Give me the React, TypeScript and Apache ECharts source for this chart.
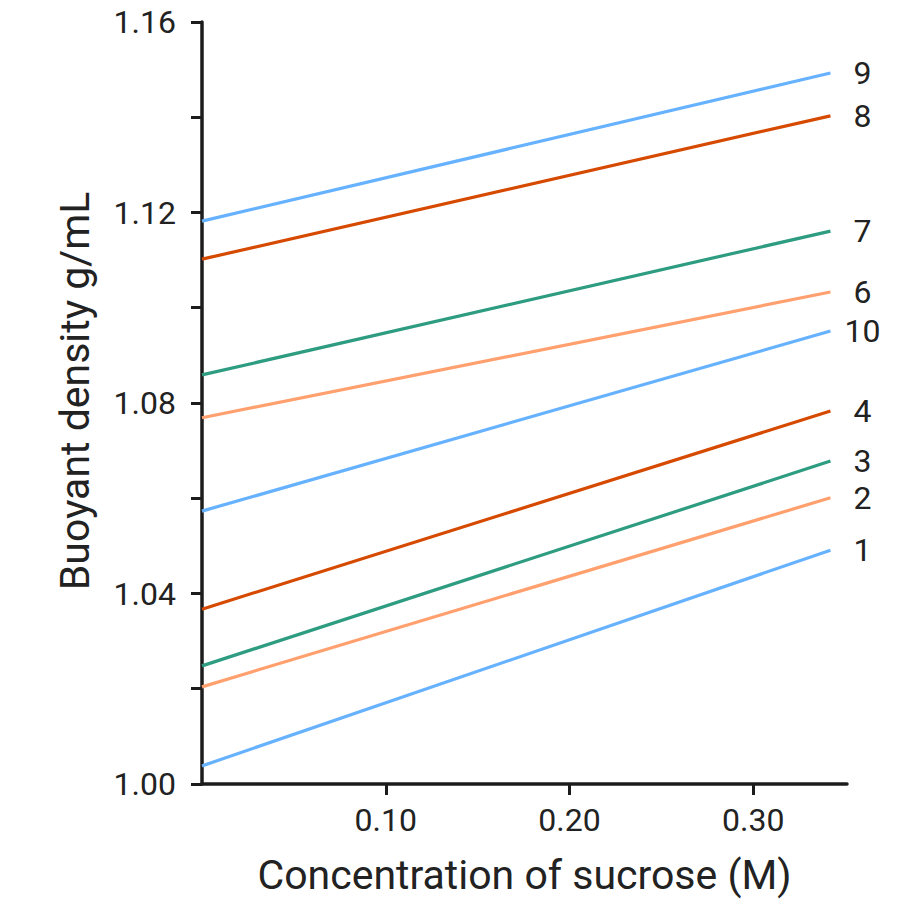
import React, { useEffect, useRef } from "react";
import * as echarts from "echarts";

const lineNames = ["1", "2", "3", "4", "10", "6", "7", "8", "9"];
const startX = 0;
const endX = 0.342;
const startValues = [1.0038, 1.0204, 1.0248, 1.0367, 1.0573, 1.0769, 1.0859, 1.1102, 1.1182];
const endValues = [1.0491, 1.0601, 1.0678, 1.0783, 1.0951, 1.1033, 1.1161, 1.1403, 1.1493];
const lineColors = ["#66b2ff", "#ffa06e", "#2e9c81", "#d64a00", "#66b2ff", "#ffa06e", "#2e9c81", "#d64a00", "#66b2ff"];

const xTickValues = [0.1, 0.2, 0.3];
const yTickValues = [1.0, 1.02, 1.04, 1.06, 1.08, 1.1, 1.12, 1.14, 1.16];
const yLabelValues = [1.0, 1.04, 1.08, 1.12, 1.16];

const xTitle = "Concentration of sucrose (M)";
const yTitle = "Buoyant density g/mL";

const FONT = "Roboto";
const AXIS_COLOR = "#1c1c1c";
const TEXT_COLOR = "#222222";

export default function App() {
  const ref = useRef<HTMLDivElement>(null);
  useEffect(() => {
    if (!ref.current) return;
    const chart = echarts.init(ref.current, undefined, { renderer: "svg" });
    const series = lineNames.map((name, i) => ({
      type: "line",
      name,
      data: [
        [startX, startValues[i]],
        [endX, endValues[i]],
      ],
      showSymbol: false,
      symbol: "none",
      lineStyle: { color: lineColors[i], width: 3.2 },
      itemStyle: { color: lineColors[i] },
      endLabel: {
        show: true,
        formatter: "{a}",
        distance: 32,
        align: "center",
        verticalAlign: "middle",
        color: TEXT_COLOR,
        fontSize: 32,
        fontFamily: FONT,
      },
      z: 2,
    }));
    chart.setOption({
      animation: false,
      backgroundColor: "#ffffff",
      grid: { left: 202, right: 50, top: 22, bottom: 115, containLabel: false, outerBoundsMode: "none" },
      xAxis: {
        type: "value",
        min: 0,
        max: 0.351,
        name: xTitle,
        nameLocation: "middle",
        nameGap: 70,
        nameTextStyle: { fontSize: 41, lineHeight: 42, fontFamily: FONT, color: TEXT_COLOR },
        axisLine: { show: true, lineStyle: { color: AXIS_COLOR, width: 3.5 } },
        axisTick: { show: true, length: 11, customValues: xTickValues, lineStyle: { color: AXIS_COLOR, width: 3 } },
        axisLabel: {
          customValues: xTickValues,
          formatter: (v: number) => v.toFixed(2),
          margin: 20,
          fontSize: 32,
          fontFamily: FONT,
          color: TEXT_COLOR,
        },
        splitLine: { show: false },
      },
      yAxis: {
        type: "value",
        min: 1.0,
        max: 1.16,
        name: yTitle,
        nameLocation: "middle",
        nameGap: 107,
        nameTextStyle: { fontSize: 41, fontFamily: FONT, color: TEXT_COLOR, padding: [0, 0, 0, 24] },
        axisLine: { show: true, lineStyle: { color: AXIS_COLOR, width: 3.5 } },
        axisTick: { show: true, length: 11, customValues: yTickValues, lineStyle: { color: AXIS_COLOR, width: 3 } },
        axisLabel: {
          customValues: yLabelValues,
          formatter: (v: number) => v.toFixed(2),
          margin: 26,
          fontSize: 32,
          fontFamily: FONT,
          color: TEXT_COLOR,
        },
        splitLine: { show: false },
      },
      series,
    });
    return () => chart.dispose();
  }, []);
  return <div ref={ref} style={{ width: 897, height: 899, position: "absolute", left: 0, top: 0 }} />;
}
